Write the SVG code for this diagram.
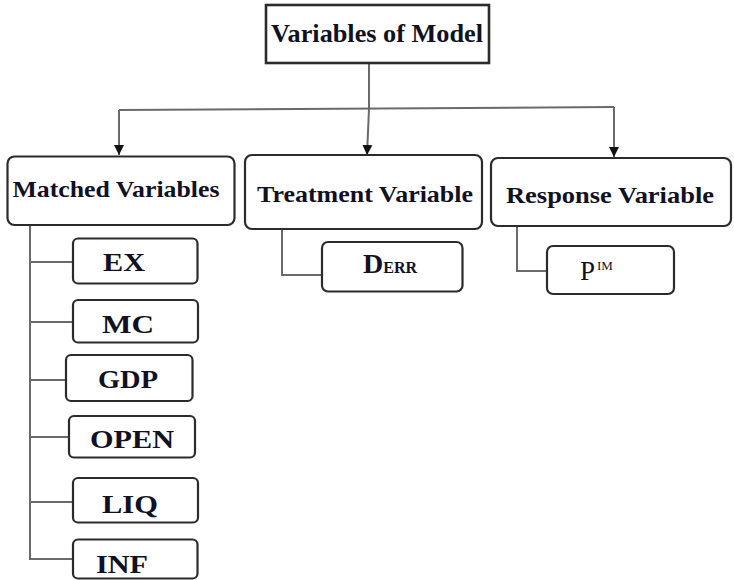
<svg xmlns="http://www.w3.org/2000/svg" width="734" height="580" viewBox="0 0 734 580">
<defs>
<style>
.box{fill:#fff;stroke:#2b2b2b;stroke-width:2.2}
.conn{fill:none;stroke:#6a6a6a;stroke-width:2}
.t{font-family:"Liberation Serif","Times New Roman",serif;font-weight:bold;fill:#111122;text-anchor:middle}
.h{font-size:24px}
.s{font-size:26px}
</style>
<marker id="ah" viewBox="0 0 10 10" refX="10" refY="5" markerWidth="10" markerHeight="11" markerUnits="userSpaceOnUse" orient="auto">
<path d="M0,0 L10,5 L0,10 Z" fill="#111"/>
</marker>
</defs>
<rect width="734" height="580" fill="#fff"/>
<g id="connectors">
<line class="conn" x1="369" y1="63" x2="369" y2="109"/>
<line class="conn" x1="119" y1="110" x2="614" y2="107"/>
<line class="conn" x1="119" y1="110" x2="119" y2="155" marker-end="url(#ah)"/>
<line class="conn" x1="369" y1="109" x2="367" y2="155" marker-end="url(#ah)"/>
<line class="conn" x1="614" y1="107" x2="614" y2="157" marker-end="url(#ah)"/>
<polyline class="conn" points="30,225 30,559 73,559"/>
<line class="conn" x1="30" y1="262" x2="73" y2="262"/>
<line class="conn" x1="30" y1="322" x2="73" y2="322"/>
<line class="conn" x1="30" y1="380" x2="66" y2="380"/>
<line class="conn" x1="30" y1="437" x2="69" y2="437"/>
<line class="conn" x1="30" y1="502" x2="73" y2="502"/>
<polyline class="conn" points="282,229 282,275 322,275"/>
<polyline class="conn" points="517,226 517,271 547,271"/>
</g>
<g id="root">
<rect x="266" y="5" width="223" height="58" fill="#fff" stroke="#2b2b2b" stroke-width="2.6"/>
<text class="t" x="377" y="42" font-size="25" textLength="212" lengthAdjust="spacingAndGlyphs">Variables of Model</text>
</g>
<g id="matched">
<rect class="box" x="7.5" y="156.5" width="227" height="68.5" rx="7"/>
<text class="t h" x="116" y="197" textLength="207" lengthAdjust="spacingAndGlyphs">Matched Variables</text>
</g>
<g id="treatment">
<rect class="box" x="245" y="155" width="237" height="74" rx="7"/>
<text class="t h" x="365" y="202" textLength="216" lengthAdjust="spacingAndGlyphs">Treatment Variable</text>
</g>
<g id="response">
<rect class="box" x="491" y="158" width="240" height="68" rx="7"/>
<text class="t h" x="610" y="202.5" textLength="208" lengthAdjust="spacingAndGlyphs">Response Variable</text>
</g>
<g id="ex">
<rect class="box" x="73" y="238.5" width="124.5" height="45" rx="5"/>
<text class="t s" x="124" y="271" textLength="42" lengthAdjust="spacingAndGlyphs">EX</text>
</g>
<g id="mc">
<rect class="box" x="73" y="300" width="125" height="42.5" rx="5"/>
<text class="t s" x="128" y="333" textLength="52" lengthAdjust="spacingAndGlyphs">MC</text>
</g>
<g id="gdp">
<rect class="box" x="66" y="355" width="126.5" height="46" rx="5"/>
<text class="t s" x="128" y="387.5" textLength="60" lengthAdjust="spacingAndGlyphs">GDP</text>
</g>
<g id="open">
<rect class="box" x="69" y="416" width="126" height="41.5" rx="5"/>
<text class="t s" x="132" y="448" textLength="84" lengthAdjust="spacingAndGlyphs">OPEN</text>
</g>
<g id="liq">
<rect class="box" x="73" y="478" width="125" height="44.5" rx="5"/>
<text class="t s" x="130" y="513" textLength="56" lengthAdjust="spacingAndGlyphs">LIQ</text>
</g>
<g id="inf">
<rect class="box" x="73" y="539.5" width="124.5" height="39" rx="5"/>
<text class="t s" x="122" y="573" textLength="52" lengthAdjust="spacingAndGlyphs">INF</text>
</g>
<g id="derr">
<rect class="box" x="322" y="242" width="140.5" height="49.5" rx="6"/>
<text class="t" x="390" y="273" font-size="28"><tspan>D</tspan><tspan font-size="16">ERR</tspan></text>
</g>
<g id="pim">
<rect class="box" x="547" y="246" width="127" height="48" rx="6"/>
<text x="580" y="280" font-family="Liberation Serif, Times New Roman, serif" fill="#111122" font-size="27">P<tspan font-size="13" dx="2" dy="-10">IM</tspan></text>
</g>
</svg>
